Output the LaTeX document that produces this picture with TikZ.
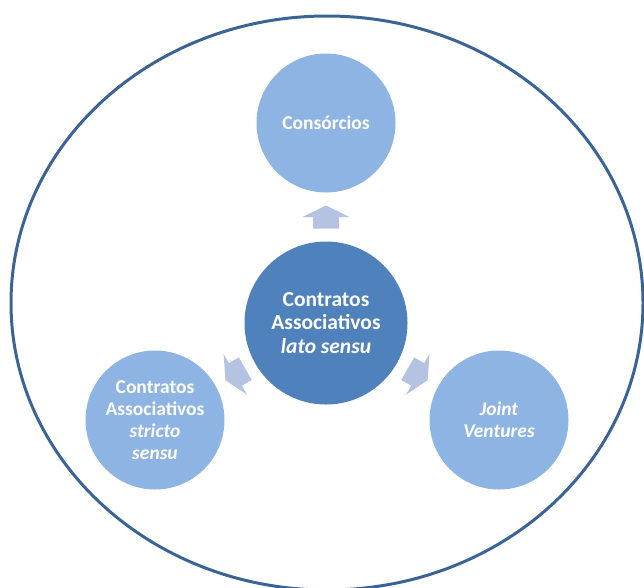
\documentclass[tikz,border=0pt]{standalone}
\usepackage{fontspec}
\setmainfont{Carlito}
\usetikzlibrary{calc}
\definecolor{ringblue}{HTML}{3A6496}
\definecolor{hubblue}{HTML}{4F81BD}
\definecolor{leafblue}{HTML}{8EB4E3}
\definecolor{arrowblue}{HTML}{B3C3E1}
\tikzset{
  hub/.style={circle, fill=hubblue, minimum size=163pt, inner sep=0pt,
    text=white, align=center, font=\fontsize{21.5}{23.5}\selectfont\bfseries},
  leaf/.style={circle, fill=leafblue, minimum size=139pt, inner sep=0pt,
    text=white, align=center, font=\fontsize{19.5}{22}\selectfont\bfseries},
  blockarrow/.pic={\fill[arrowblue] (-11.5,-13) -- (0,-13) -- (0,-23.5) -- (11.5,0)
    -- (0,23.5) -- (0,13) -- (-11.5,13) -- cycle;}
}
\begin{document}
\begin{tikzpicture}[x=1pt, y=-1pt]
  \useasboundingbox (0,0) rectangle (644,587);
  % outer ring
  \draw[ringblue, line width=3pt] (327,303) ellipse [x radius=316, y radius=287];
  % hub and satellites
  \node[hub] (hub) at (326,323) {Contratos\\Associativos\\\itshape lato sensu};
  \node[leaf] (cons) at (326,123) {Consórcios};
  \node[leaf] (cas) at (155,420) {Contratos\\Associativos\\\itshape stricto\\\itshape sensu};
  \node[leaf] (jv) at (499,420) {\itshape Joint\\\itshape Ventures};
  % block arrows between the hub and each satellite
  \pic[rotate=90] at ($(hub)!0.53!(cons)$) {blockarrow};
  \pic[rotate=210] at ($(hub)!0.53!(cas)$) {blockarrow};
  \pic[rotate=-30] at ($(hub)!0.53!(jv)$) {blockarrow};
\end{tikzpicture}
\end{document}
